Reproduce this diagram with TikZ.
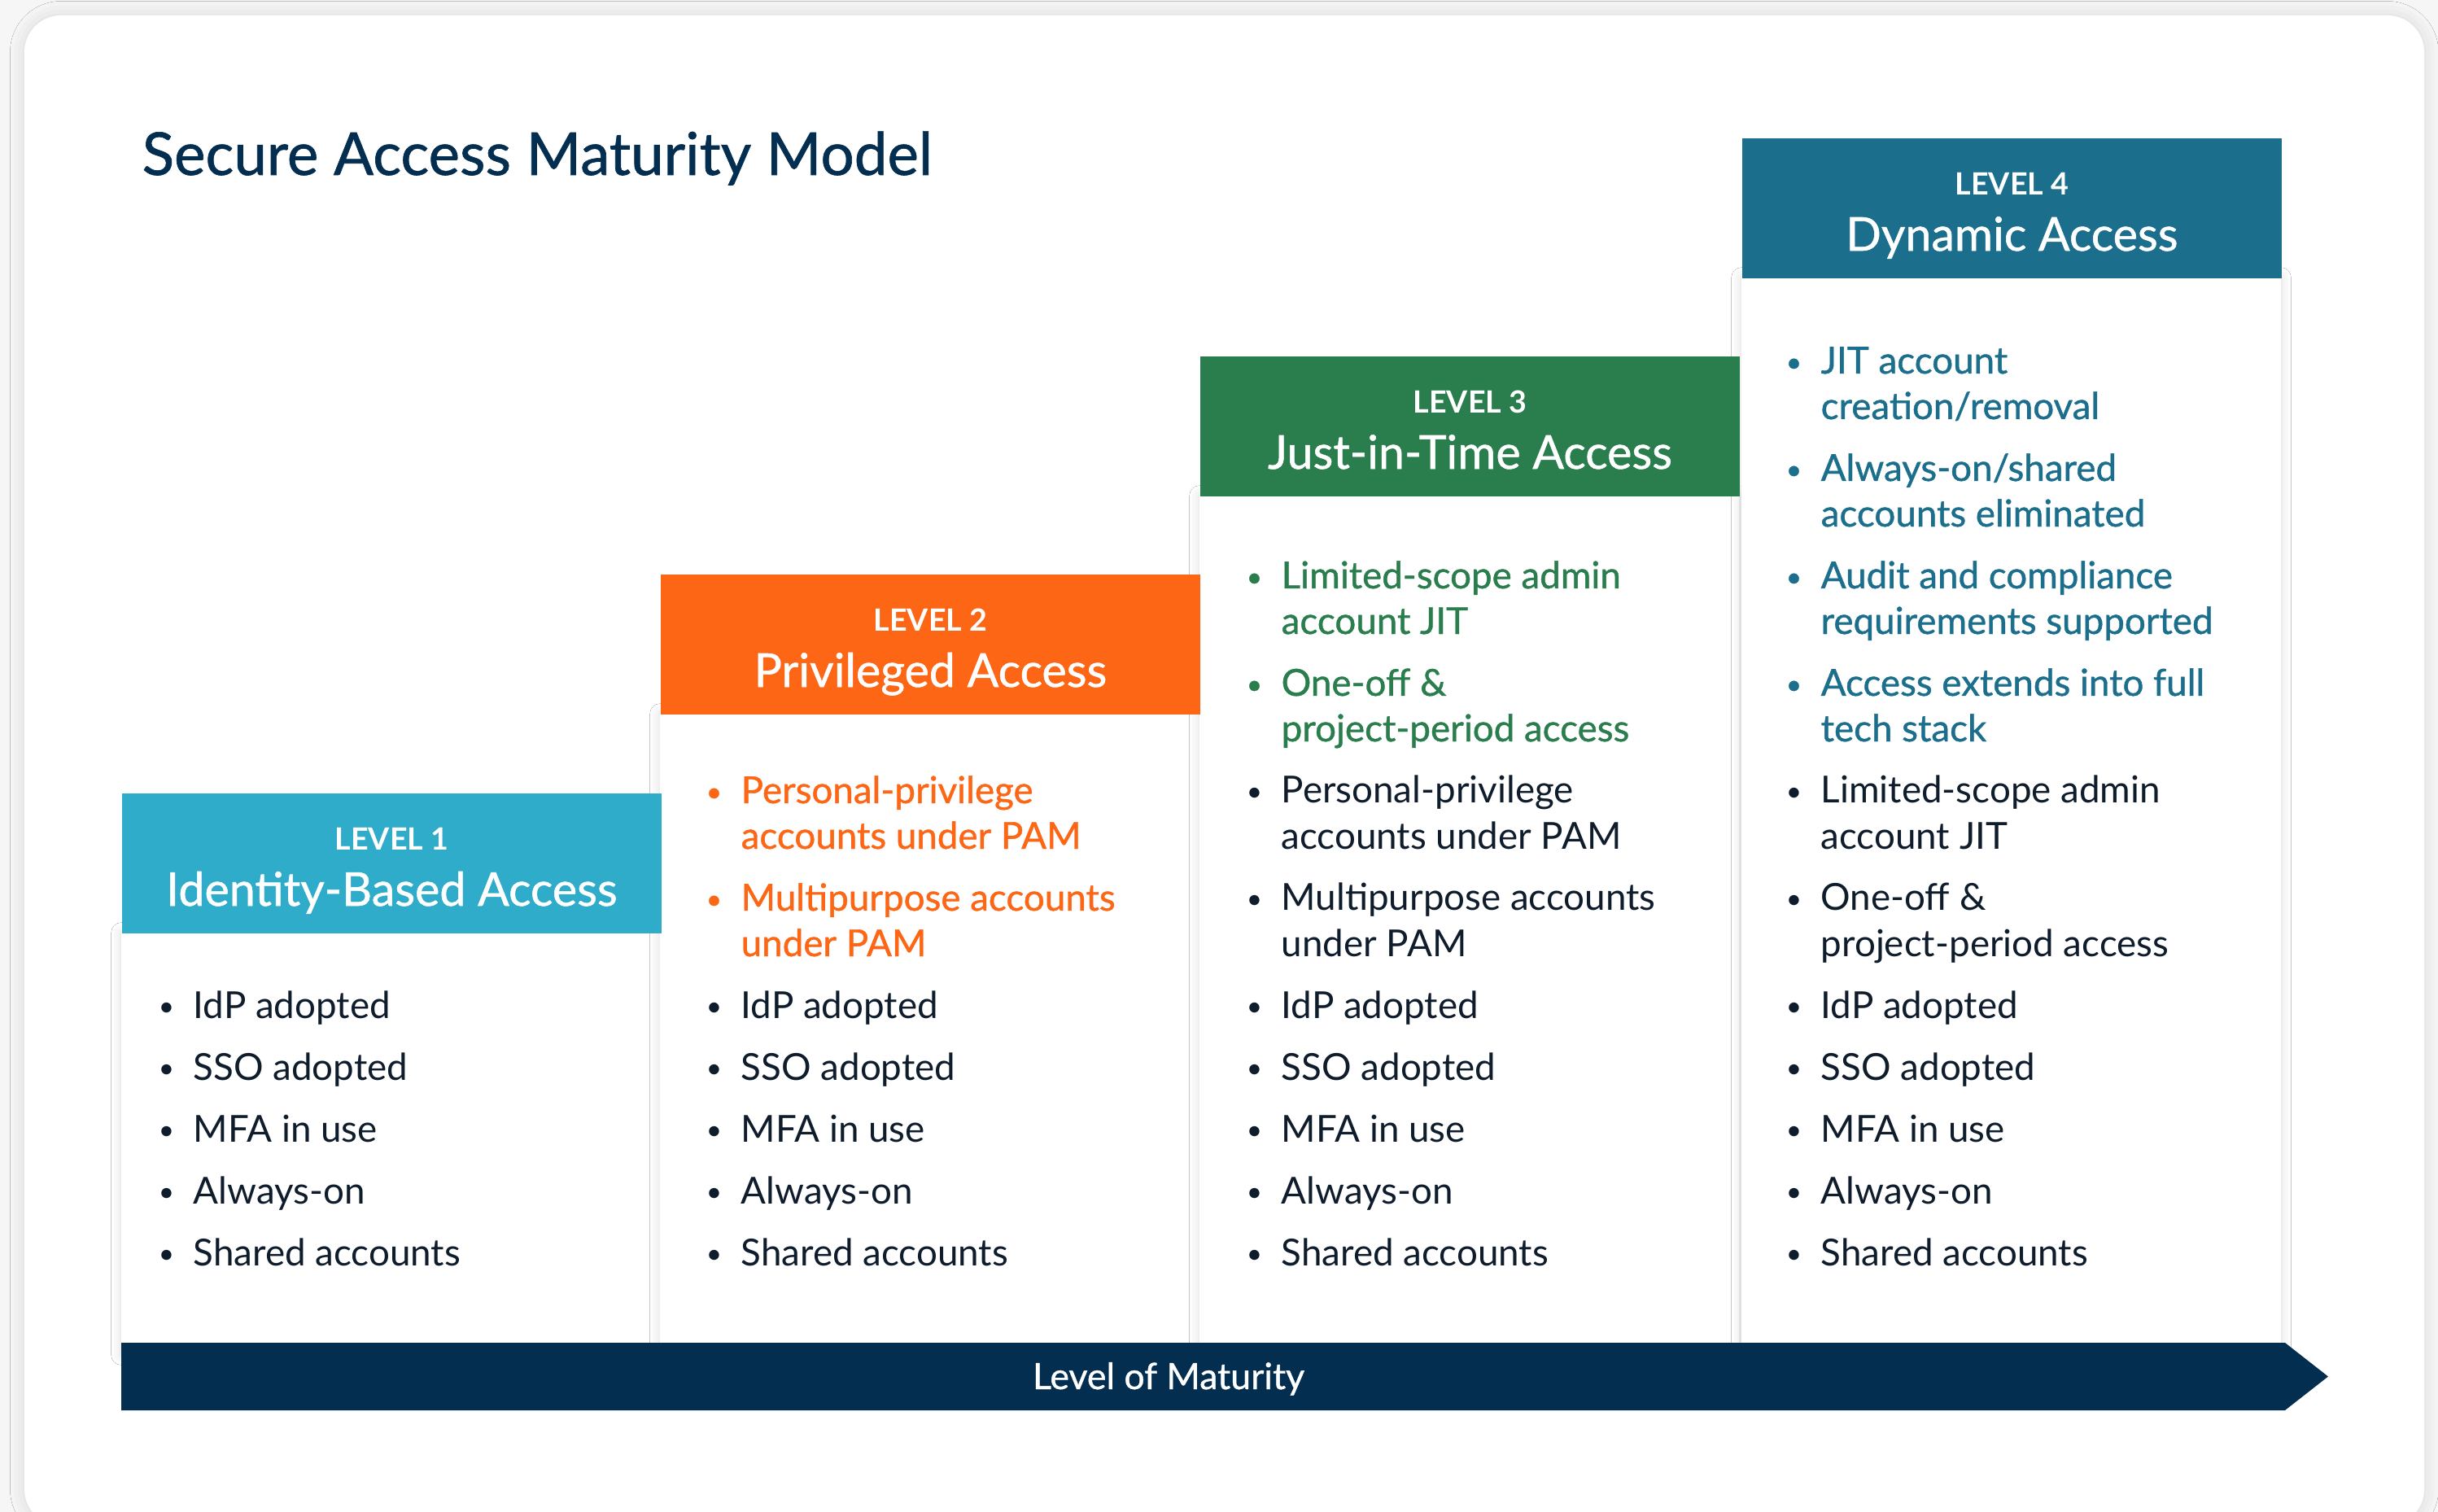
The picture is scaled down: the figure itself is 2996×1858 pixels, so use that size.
\documentclass[tikz,border=0pt]{standalone}
\usepackage{fontspec}
\setmainfont{Lato}
\newfontfamily\latomed{Lato}[FakeBold=0.9]
\usetikzlibrary{shadows.blur}

\definecolor{paper}{HTML}{F6F6F6}
\definecolor{navy}{HTML}{032E50}
\definecolor{ink}{HTML}{0E1C2B}
\definecolor{lvlone}{HTML}{2EACCA}
\definecolor{lvltwo}{HTML}{FC6615}
\definecolor{lvlthree}{HTML}{2A7D4D}
\definecolor{lvlfour}{HTML}{1B6E8C}

\newcommand\itembullet{\llap{\raisebox{0.6pt}{\fontsize{9.5}{9.5}\selectfont\textbullet}\hspace{6.7pt}}}

\tikzset{
    card/.style={fill=white, rounded corners=0.45cm,
        blur shadow={shadow xshift=0pt, shadow yshift=0pt, shadow blur radius=5pt, shadow opacity=12}},
    colbox/.style={fill=white,
        blur shadow={shadow xshift=0pt, shadow yshift=0pt, shadow blur radius=3.5pt, shadow opacity=14}},
    head/.style={fill=#1, inner sep=0pt, minimum width=6.63cm, minimum height=1.72cm, anchor=north west},
    leveltag/.style={text=white, font=\bfseries\fontsize{10.7}{12}\selectfont, anchor=base, inner sep=0pt},
    levelname/.style={text=white, font=\latomed\fontsize{16.3}{19}\selectfont, anchor=base, inner sep=0pt},
    listitem/.style={text=#1, font=\fontsize{13}{15.93}\selectfont, align=left, anchor=base west, inner sep=0pt},
    keyitem/.style={listitem=#1, font=\latomed\fontsize{13}{15.93}\selectfont},
}

\begin{document}
\begin{tikzpicture}[x=0.01cm, y=-0.01cm]
    \useasboundingbox (0,0) rectangle (2996,1858);
    \fill[paper] (0,0) rectangle (2996,1858);
    \path[card] (30,19) rectangle (2979,1875);

    \node[anchor=base west, inner sep=0pt, text=navy, font=\latomed\fontsize{20.7}{24}\selectfont]
        (title) at (174,215) {Secure Access Maturity Model};

    % white column bodies first, each a step higher
    \foreach \x/\y in {149/1146, 811/877, 1474/609, 2140/341}
        \path[colbox] (\x,\y) rectangle ++(663,{1665-\y});

    \foreach \n/\x/\y/\c/\name in {1/149/974/lvlone/Identity-Based Access,
                                   2/811/705/lvltwo/Privileged Access,
                                   3/1474/437/lvlthree/Just-in-Time Access,
                                   4/2140/169/lvlfour/Dynamic Access} {
        \node[head=\c] (head\n) at (\x,\y) {};
        \node[leveltag] (tag\n) at ([yshift=-7mm]head\n.north) {LEVEL \n};
        \node[levelname] (name\n) at ([yshift=-13.9mm]head\n.north) {\name};
    }

    % the basics every level keeps
    \foreach \x/\n in {237/1, 910/2, 1574/3, 2237/4}
        \foreach \txt [count=\k] in {IdP adopted, SSO adopted, MFA in use, Always-on, Shared accounts}
            \node[listitem=ink] (base\n\k) at (\x,{1175+76*\k}) {\itembullet\txt};

    % two-line items sit on their last line
    \foreach \txt [count=\k] in {Personal-privilege\\accounts under PAM, Multipurpose accounts\\under PAM}
        \node[keyitem=lvltwo] (key2\k) at (910,{911+132*\k}) {\itembullet\txt};

    \foreach \txt [count=\k] in {Limited-scope admin\\account JIT, One-off \&\\project-period access}
        \node[keyitem=lvlthree] (key3\k) at (1574,{647+132*\k}) {\itembullet\txt};
    \foreach \txt [count=\k] in {Personal-privilege\\accounts under PAM, Multipurpose accounts\\under PAM}
        \node[listitem=ink] (more3\k) at (1574,{911+132*\k}) {\itembullet\txt};

    \foreach \txt [count=\k] in {JIT account\\creation/removal, Always-on/shared\\accounts eliminated,
                                 Audit and compliance\\requirements supported, Access extends into full\\tech stack}
        \node[keyitem=lvlfour] (key4\k) at (2237,{383+132*\k}) {\itembullet\txt};
    \foreach \txt [count=\k] in {Limited-scope admin\\account JIT, One-off \&\\project-period access}
        \node[listitem=ink] (more4\k) at (2237,{911+132*\k}) {\itembullet\txt};

    \fill[navy] (149,1650) -- (2808,1650) -- (2861,1691.5) -- (2808,1733) -- (149,1733) -- cycle;
    \node[anchor=base, inner sep=0pt, text=white, font=\latomed\fontsize{12.7}{15}\selectfont]
        (maturity) at (1436,1707) {Level of Maturity};
\end{tikzpicture}
\end{document}
